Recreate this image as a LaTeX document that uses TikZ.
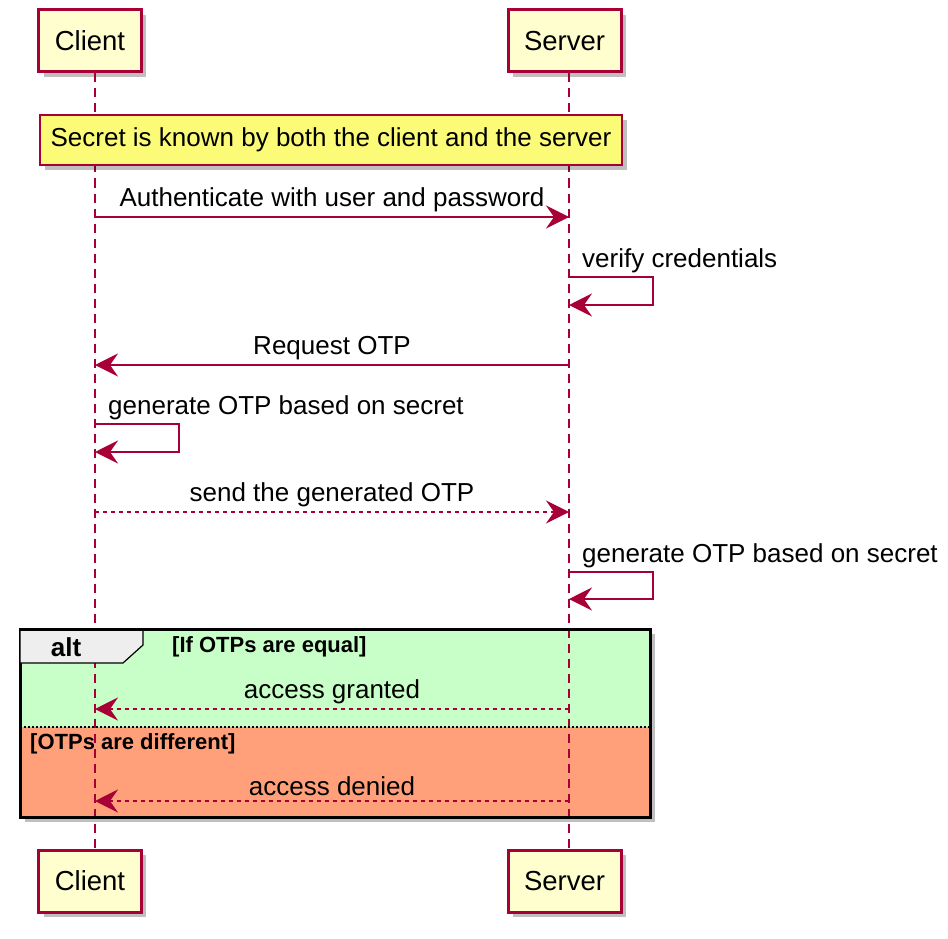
\documentclass[tikz,border=0pt]{standalone}
\usepackage{fontspec}
\setmainfont{Liberation Sans}
\usetikzlibrary{positioning,arrows.meta,shadows}
\definecolor{umlred}{HTML}{A80036}
\definecolor{partfill}{HTML}{FEFECE}
\definecolor{notefill}{HTML}{FBFB77}
\definecolor{altgreen}{HTML}{C8FFC8}
\definecolor{altorange}{HTML}{FFA07A}
\definecolor{tabgray}{HTML}{EEEEEE}
\tikzset{
    auto,
    umlshadow/.style = {
        drop shadow={shadow xshift=5pt, shadow yshift=-5pt, fill=black, opacity=0.25}
    },
    participant/.style = {
        draw=umlred,
        fill=partfill,
        shape=rectangle,
        line width=3pt,
        minimum height=62pt,
        inner xsep=16pt,
        font=\fontsize{27.5}{32}\selectfont,
        umlshadow
    },
    note/.style = {
        draw=umlred,
        fill=notefill,
        shape=rectangle,
        line width=1.5pt,
        minimum width=582pt,
        minimum height=50pt,
        font=\fontsize{26}{30}\selectfont,
        umlshadow
    },
    lifeline/.style = {
        draw=umlred,
        line width=1.5pt,
        dash pattern=on 9pt off 6pt
    },
    message/.style = {
        draw=umlred,
        line width=2pt
    },
    reply/.style = {
        message,
        dash pattern=on 4pt off 4pt
    },
    msglabel/.style = {
        inner sep=2pt,
        text=black,
        font=\fontsize{26}{30}\selectfont
    },
    guard/.style = {
        inner sep=0pt,
        anchor=west,
        font=\fontsize{22}{26}\bfseries
    },
    >={Stealth[length=23pt, width=23pt, inset=8pt]},
}

\begin{document}
\begin{tikzpicture}[x=1pt, y=-1pt]
            \useasboundingbox (0,0) rectangle (948,939);

            % alt frame background
            \path[fill=altgreen, umlshadow] (20,629) rectangle (650,817);
            \fill[altorange] (20,727) rectangle (650,817);

            \node[participant] (client) at (90,41) {Client};
            \node[participant] (server) at (564.5,41) {Server};
            \node[participant] (clientb) at (90,881) {Client};
            \node[participant] (serverb) at (564.5,881) {Server};

            \coordinate (cl) at (95,0);
            \coordinate (sl) at (569,0);

            \path[lifeline] (client.south -| cl) -- (clientb.north -| cl);
            \path[lifeline] (server.south -| sl) -- (serverb.north -| sl);

            \node[note] (secret) at (331,140) {Secret is known by both the client and the server};

            % alt frame
            \draw[line width=3pt] (20,629) rectangle (650,817);
            \draw[line width=1.5pt, dash pattern=on 2pt off 2pt] (20,727) -- (650,727);
            \draw[fill=tabgray, line width=1.2pt] (20,629) -- (143,629) -- (143,645) -- (123,663) -- (20,663) -- cycle;
            \draw[line width=3pt] (20,629) -- (650,629);
            \node[font=\fontsize{26}{30}\bfseries] (alt) at (66,647) {alt};
            \node[guard] (equal) at (172,647) {[If OTPs are equal]};
            \node[guard] (different) at (30,744) {[OTPs are different]};

            % messages
            \coordinate (c1) at (95,217);  \coordinate (s1) at (569,217);
            \coordinate (s2) at (569,277); \coordinate (s2b) at (569,305);
            \coordinate (c3) at (95,365);  \coordinate (s3) at (569,365);
            \coordinate (c4) at (95,424);  \coordinate (c4b) at (95,452);
            \coordinate (c5) at (95,512);  \coordinate (s5) at (569,512);
            \coordinate (s6) at (569,572); \coordinate (s6b) at (569,599);
            \coordinate (c7) at (95,709);  \coordinate (s7) at (569,709);
            \coordinate (c8) at (95,801);  \coordinate (s8) at (569,801);

            \path[message, ->] (c1) -- (s1) node [msglabel, midway, above=2pt] {Authenticate with user and password};
            \path[message, ->] (s2) -- ++(84,0) |- (s2b);
            \node[msglabel, above right=2pt and 11pt] at (s2) {verify credentials};
            \path[message, ->] (s3) -- (c3) node [msglabel, midway, above=2pt] {Request OTP};
            \path[message, ->] (c4) -- ++(84,0) |- (c4b);
            \node[msglabel, above right=2pt and 11pt] at (c4) {generate OTP based on secret};
            \path[reply, ->] (c5) -- (s5) node [msglabel, midway, above=2pt] {send the generated OTP};
            \path[message, ->] (s6) -- ++(84,0) |- (s6b);
            \node[msglabel, above right=2pt and 11pt] at (s6) {generate OTP based on secret};

            \path[reply, ->] (s7) -- (c7) node [msglabel, midway, above=2pt] {access granted};
            \path[reply, ->] (s8) -- (c8) node [msglabel, midway, above=2pt] {access denied};

        \end{tikzpicture}
\end{document}
